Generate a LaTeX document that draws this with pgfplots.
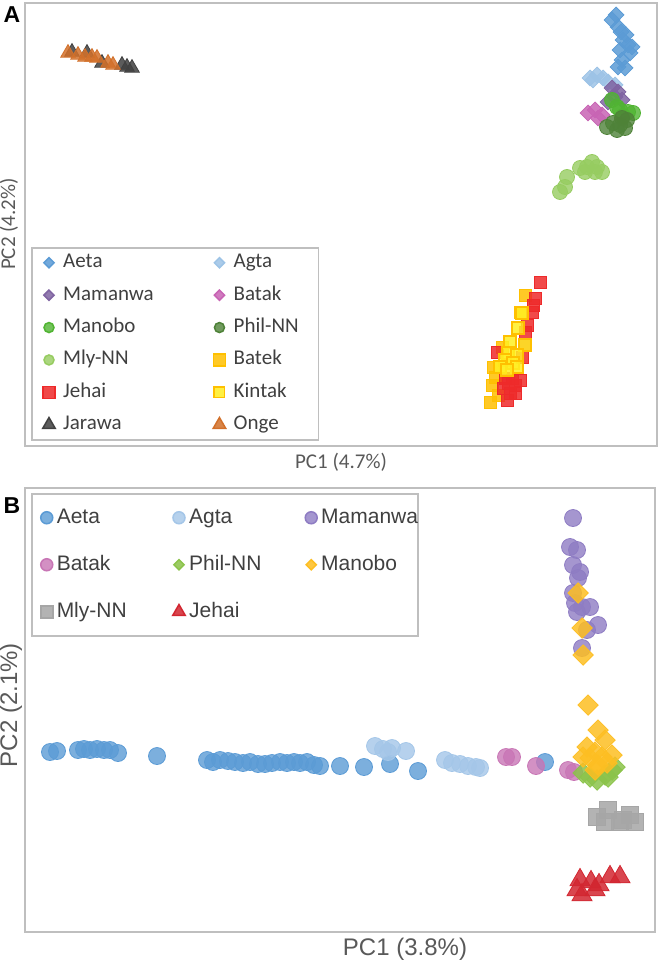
\documentclass[border=0pt]{standalone}
\usepackage{fontspec}
\setmainfont{Carlito}
\newfontfamily\arial{Liberation Sans}
\usepackage{pgfplots}
\pgfplotsset{compat=1.18}

\definecolor{framegray}{HTML}{BFBFBF}
\definecolor{labgray}{HTML}{595959}
\definecolor{legtext}{HTML}{404040}
% panel A
\definecolor{aAeta}{HTML}{5B9BD5}
\definecolor{aAgta}{HTML}{9DC3E6}
\definecolor{aMamanwa}{HTML}{8064A2}
\definecolor{aBatak}{HTML}{C864B4}
\definecolor{aManobo}{HTML}{50B432}
\definecolor{aPhil}{HTML}{4E8238}
\definecolor{aMly}{HTML}{96CC60}
\definecolor{aBatek}{HTML}{FFC000}
\definecolor{aJehai}{HTML}{EE2A2A}
\definecolor{aKintak}{HTML}{FFEE22}
\definecolor{aJarawa}{HTML}{404040}
\definecolor{aOnge}{HTML}{D2702A}
% panel B
\definecolor{bAeta}{HTML}{5B9BD5}
\definecolor{bAgta}{HTML}{A4C6E8}
\definecolor{bMamanwa}{HTML}{8E7CC3}
\definecolor{bBatak}{HTML}{C875B5}
\definecolor{bPhil}{HTML}{8BC34A}
\definecolor{bManobo}{HTML}{FDBE22}
\definecolor{bMly}{HTML}{A6A6A6}
\definecolor{bJehai}{HTML}{D22630}

\pgfplotsset{
  dia/.style n args={3}{only marks, mark=square*, mark size=#2, color=#1,
    mark options={rotate=45, draw=none, fill=#1, fill opacity=0.85},
    legend image post style={mark size=#3}},
  dot/.style n args={3}{only marks, mark=*, mark size=#2, color=#1,
    mark options={draw=none, fill=#1, fill opacity=0.8},
    legend image post style={mark size=#3}},
  sqr/.style n args={3}{only marks, mark=square*, mark size=#2, color=#1,
    mark options={draw=none, fill=#1, fill opacity=0.85},
    legend image post style={mark size=#3}},
  tri/.style n args={3}{only marks, mark=triangle*, mark size=#2, color=#1,
    mark options={draw=none, fill=#1, fill opacity=0.85},
    legend image post style={mark size=#3}},
  pcaframe/.style={
    scale only axis, anchor=north west, y dir=reverse,
    xtick=\empty, ytick=\empty,
    axis line style={draw=framegray, line width=0.75pt},
    legend image code/.code={\draw[##1] plot coordinates {(0pt,0pt)};},
  },
}

\begin{document}
\begin{tikzpicture}
\useasboundingbox (0pt,0pt) rectangle (330pt,-480.5pt);

% ---------------- panel A ----------------
\begin{axis}[pcaframe,
  at={(12.5pt,-1.5pt)}, width=316pt, height=221.5pt,
  xmin=25, xmax=657, ymin=3, ymax=446,
  legend columns=2,
  legend style={at={(axis cs:31,247)}, anchor=north west,
    draw=framegray, line width=0.75pt, fill=white,
    inner xsep=5.5pt, inner ysep=3pt, row sep=7.2pt, column sep=4pt,
    font=\fontsize{10.5}{12}\selectfont, text=legtext,
    nodes={inner sep=0pt, text height=7pt, text depth=2pt, anchor=west, text width=37pt},
    /tikz/every even column/.append style={column sep=38pt}},
]
\addplot[dia={aAeta}{2.8pt}{1.8pt}] coordinates {
(612,20) (618,27) (616,15) (623,40) (628,45) (620,50) (630,53) (632,47)
(622,60) (625,68) (618,67) (626,35) (621,32)};
\addlegendentry{Aeta}
\addplot[dia={aAgta}{2.8pt}{1.8pt}] coordinates {
(590,78) (597,75) (603,78) (608,82) (615,85) (593,80)};
\addlegendentry{Agta}
\addplot[dia={aMamanwa}{2.8pt}{1.8pt}] coordinates {
(612,88) (618,92) (615,97) (622,100) (608,102)};
\addlegendentry{Mamanwa}
\addplot[dia={aBatak}{2.8pt}{1.8pt}] coordinates {
(588,113) (595,110) (602,115) (598,118)};
\addlegendentry{Batak}
\addplot[dot={aManobo}{3.75pt}{2.5pt}] coordinates {
(612,100) (620,110) (628,112) (633,113) (617,107) (623,116)};
\addlegendentry{Manobo}
\addplot[dot={aPhil}{3.75pt}{2.5pt}] coordinates {
(607,127) (613,123) (620,125) (625,128) (617,130) (627,120) (622,118)};
\addlegendentry{Phil-NN}
\addplot[dot={aMly}{3.75pt}{2.5pt}] coordinates {
(560,192) (565,187) (567,177) (580,168) (587,167) (592,162) (597,167)
(602,172) (595,172) (585,172)};
\addlegendentry{Mly-NN}
\addplot[sqr={aBatek}{3pt}{3pt}] coordinates {
(525,295) (520,312) (502,347) (495,377) (492,385) (490,402) (493,367) (498,395)};
\addlegendentry{Batek}
\addplot[sqr={aJehai}{3pt}{3pt}] coordinates {
(540,282) (535,298) (533,305) (532,312) (527,325) (525,332) (525,345)
(497,352) (522,357) (508,383) (503,388) (515,385) (520,380) (510,393)
(507,400) (515,393) (512,378) (505,378)};
\addlegendentry{Jehai}
\addplot[only marks, mark=square*, mark size=3pt, color=aBatek,
  mark options={draw=aBatek, line width=0.6pt, fill=aKintak, fill opacity=0.85},
  legend image post style={mark size=2.7pt}] coordinates {
(522,313) (518,328) (510,342) (525,345) (508,353) (517,355) (505,360)
(513,363) (500,367) (517,367) (507,370)};
\addlegendentry{Kintak}
\addplot[tri={aJarawa}{4.2pt}{3.6pt}] coordinates {
(72,52) (87,53) (102,63) (122,65) (127,67) (132,68)};
\addlegendentry{Jarawa}
\addplot[tri={aOnge}{4.2pt}{3.6pt}] coordinates {
(68,53) (78,55) (85,57) (92,57) (97,58) (108,63) (113,65)};
\addlegendentry{Onge}
\end{axis}

% ---------------- panel B ----------------
\begin{axis}[pcaframe,
  at={(12.5pt,-244pt)}, width=315pt, height=222pt,
  xmin=25, xmax=655, ymin=488, ymax=932,
  legend columns=3,
  legend style={at={(axis cs:31,493)}, anchor=north west,
    draw=framegray, line width=0.75pt, fill=white,
    inner xsep=4.5pt, inner ysep=6.9pt, row sep=13.3pt, column sep=2pt,
    font=\arial\fontsize{10.5}{12}\selectfont, text=legtext,
    nodes={inner sep=0pt, text height=8pt, text depth=2.2pt, anchor=west, text width=44pt},
    /tikz/every even column/.append style={column sep=14pt}},
]
\addplot[dot={bAeta}{4.25pt}{3pt}] coordinates {
(50,752) (57,751) (78,750) (84,749) (90,750) (97,749) (104,750) (110,750)
(118,753) (157,756) (207,760) (213,762) (220,760) (228,761) (235,762)
(243,763) (250,762) (258,764) (265,764) (272,763) (280,762) (287,763)
(294,762) (300,763) (307,762) (314,765) (320,766) (340,766) (364,767)
(390,764) (418,771) (545,762)};
\addlegendentry{Aeta}
\addplot[dot={bAgta}{4.25pt}{3pt}] coordinates {
(375,746) (383,749) (388,752) (392,748) (406,751) (445,760) (452,763)
(460,764) (468,766) (476,767) (480,768)};
\addlegendentry{Agta}
\addplot[dot={bMamanwa}{4.25pt}{3pt}] coordinates {
(573,518) (570,547) (577,550) (573,565) (580,572) (578,578) (573,593)
(575,603) (582,607) (577,612) (598,625) (587,630) (582,648) (590,607)};
\addlegendentry{Mamanwa}
\addplot[dot={bBatak}{4.25pt}{3pt}] coordinates {
(506,757) (512,757) (536,766) (568,770) (574,772)};
\addlegendentry{Batak}
\addplot[dia={bPhil}{3.6pt}{1.8pt}] coordinates {
(583,773) (590,777) (597,780) (605,775) (612,770) (615,767) (608,777)};
\addlegendentry{Phil-NN}
\addplot[dia={bManobo}{3.6pt}{1.8pt}] coordinates {
(578,593) (582,628) (583,655) (588,705) (598,730) (605,740) (587,747)
(595,752) (602,757) (612,755) (590,758) (607,763) (583,757) (598,765)
(595,770)};
\addlegendentry{Manobo}
\addplot[sqr={bMly}{4.2pt}{3pt}] coordinates {
(597,817) (608,810) (605,822) (623,820) (630,815) (635,822) (620,822)};
\addlegendentry{Mly-NN}
\addplot[tri={bJehai}{5.8pt}{3.6pt}] coordinates {
(580,880) (591,882) (599,885) (610,877) (620,877) (577,890) (582,895) (595,890)};
\addlegendentry{Jehai}
\end{axis}

% ---------------- text ----------------
\node[font=\arial\bfseries\fontsize{11.5}{13}\selectfont] at (6pt,-7.5pt) {A};
\node[font=\arial\bfseries\fontsize{11.5}{13}\selectfont] at (6pt,-253pt) {B};
\node[font=\fontsize{10.5}{12}\selectfont, text=labgray] at (170.5pt,-231pt) {PC1 (4.7\%)};
\node[font=\fontsize{10.5}{12}\selectfont, text=labgray, rotate=90] at (4.5pt,-112pt) {PC2 (4.2\%)};
\node[font=\arial\fontsize{12}{14}\selectfont, text=labgray] at (202.5pt,-474.5pt) {PC1 (3.8\%)};
\node[font=\arial\fontsize{12}{14}\selectfont, text=labgray, rotate=90] at (5.5pt,-352.5pt) {PC2 (2.1\%)};
\end{tikzpicture}
\end{document}
